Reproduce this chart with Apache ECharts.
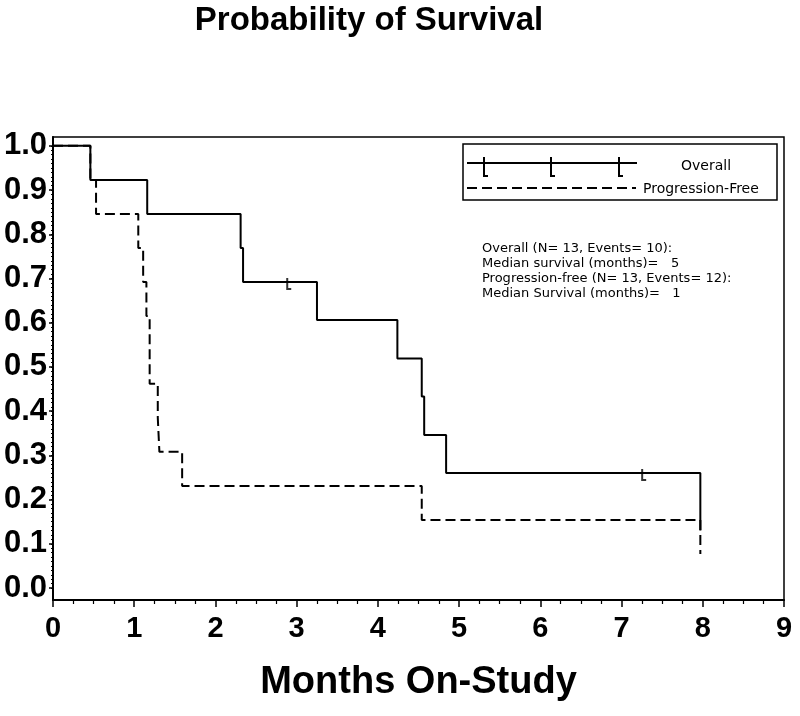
<!DOCTYPE html>
<html>
<head>
<meta charset="utf-8">
<script src="https://cdn.jsdelivr.net/npm/echarts@6/dist/echarts.min.js"></script>
<style>html,body{margin:0;padding:0;background:#fff;}#c{width:800px;height:716px;}</style>
</head>
<body>
<div id="c"></div>
<script>
// ---- data ----
var overallTimes = [0, 0.46, 1.16, 2.31, 2.34, 3.25, 4.24, 4.54, 4.57, 4.84, 7.97];
var overallSurv  = [1.0, 0.923, 0.846, 0.769, 0.692, 0.606, 0.519, 0.433, 0.346, 0.260, 0.130];
var overallCensorTimes = [2.89, 7.26];
var overallCensorSurv  = [0.692, 0.260];
var pfsTimes = [0, 0.46, 0.53, 1.05, 1.11, 1.15, 1.19, 1.29, 1.31, 1.59, 4.54, 7.97];
var pfsSurv  = [1.0, 0.923, 0.846, 0.769, 0.692, 0.615, 0.462, 0.385, 0.308, 0.231, 0.154, 0.077];
var yTickValues = [0, 0.1, 0.2, 0.3, 0.4, 0.5, 0.6, 0.7, 0.8, 0.9, 1.0];
var xTickLabels = ['0','1','2','3','4','5','6','7','8','9'];
var titleText = 'Probability of Survival';
var xAxisTitle = 'Months On-Study';
var legendNames = ['Overall', 'Progression-Free'];
var noteLines = [
  'Overall (N= 13, Events= 10):',
  'Median survival (months)=   5',
  'Progression-free (N= 13, Events= 12):',
  'Median Survival (months)=   1'
];

function pairs(xs, ys){ return xs.map(function(x,i){ return [x, ys[i]]; }); }
var yMinor = [];
for (var k = 0; k <= 100; k++) yMinor.push(k/100);

var censorPath = 'path://M0,0 L2,0 L2,10 L5,10 L5,12 L0,12 Z';

var chart = echarts.init(document.getElementById('c'), null, {renderer:'canvas'});
var option = {
  animation: false,
  backgroundColor: '#fff',
  grid: { left: 53, right: 16, top: 137, bottom: 116, show: true, borderColor: '#000', borderWidth: 1.5, backgroundColor: 'transparent' },
  xAxis: {
    type: 'value', min: 0, max: 9, interval: 1,
    name: xAxisTitle, nameLocation: 'middle', nameGap: 64,
    nameTextStyle: { fontFamily: 'Liberation Sans', fontWeight: 'bold', fontSize: 38, color: '#000' },
    axisLine: { show: true, onZero: false, lineStyle: { color: '#000', width: 2 } },
    axisTick: { show: true, length: 7, lineStyle: { color: '#000', width: 1.5 } },
    minorTick: { show: true, splitNumber: 4, length: 4, lineStyle: { color: '#000', width: 1.2 } },
    axisLabel: { margin: 14, fontFamily: 'Liberation Sans', fontWeight: 'bold', fontSize: 29, color: '#000',
      formatter: function(v){ return xTickLabels[Math.round(v)]; } },
    splitLine: { show: false }
  },
  yAxis: [{
    type: 'value', min: -0.027, max: 1.02,
    axisLine: { show: true, onZero: false, lineStyle: { color: '#000', width: 2 } },
    axisTick: { show: true, length: 4, customValues: yTickValues, lineStyle: { color: '#000', width: 1.5 } },
    axisLabel: { margin: 6, customValues: yTickValues, fontFamily: 'Liberation Sans', fontWeight: 'bold', fontSize: 31, color: '#000',
      formatter: function(v){ return v.toFixed(1); } },
    splitLine: { show: false }
  }, {
    type: 'value', min: -0.027, max: 1.02, position: 'left',
    axisLine: { show: false },
    axisTick: { show: true, length: 2, customValues: yMinor, lineStyle: { color: '#000', width: 1 } },
    axisLabel: { show: false },
    splitLine: { show: false }
  }],
  series: [
    { name: legendNames[1], type: 'line', step: 'end', data: pairs(pfsTimes, pfsSurv), showSymbol: false, symbol: 'none',
      lineStyle: { color: '#000', width: 2, type: [10, 5] }, z: 2 },
    { name: legendNames[0], type: 'line', step: 'end', data: pairs(overallTimes, overallSurv), showSymbol: false, symbol: 'none',
      lineStyle: { color: '#000', width: 2, type: 'solid' }, z: 3 },
    { name: 'censor', type: 'scatter', data: pairs(overallCensorTimes, overallCensorSurv), symbol: censorPath,
      symbolSize: [5, 12], symbolOffset: [1, 2], itemStyle: { color: '#000' }, z: 4 }
  ],
  graphic: [
    { type: 'text', style: { text: titleText, x: 369, y: 4, align: 'center', verticalAlign: 'top', fontFamily: 'Liberation Sans', fontWeight: 'bold', fontSize: 33, fill: '#000' } },
    { type: 'rect', shape: { x: 463, y: 144, width: 314, height: 56 }, style: { fill: '#fff', stroke: '#000', lineWidth: 1.5 } },
    { type: 'line', shape: { x1: 467, y1: 163, x2: 637, y2: 163 }, style: { stroke: '#000', lineWidth: 2 } },
    { type: 'polyline', shape: { points: [[484,157],[484,176],[488,176]] }, style: { stroke: '#000', lineWidth: 2, fill: null } },
    { type: 'polyline', shape: { points: [[551,157],[551,176],[555,176]] }, style: { stroke: '#000', lineWidth: 2, fill: null } },
    { type: 'polyline', shape: { points: [[619,157],[619,176],[623,176]] }, style: { stroke: '#000', lineWidth: 2, fill: null } },
    { type: 'line', shape: { x1: 467, y1: 188, x2: 636, y2: 188 }, style: { stroke: '#000', lineWidth: 2, lineDash: [10, 5] } },
    { type: 'text', style: { x: 681, y: 166, text: legendNames[0], verticalAlign: 'middle', fontFamily: 'DejaVu Sans', fontSize: 14, fill: '#000' } },
    { type: 'text', style: { x: 643, y: 189, text: legendNames[1], verticalAlign: 'middle', fontFamily: 'DejaVu Sans', fontSize: 14, fill: '#000' } },
    { type: 'text', style: { x: 482, y: 241, text: noteLines.join('\n'), lineHeight: 15, verticalAlign: 'top', fontFamily: 'DejaVu Sans', fontSize: 13, fill: '#000' } }
  ]
};
chart.setOption(option);
</script>
</body>
</html>
